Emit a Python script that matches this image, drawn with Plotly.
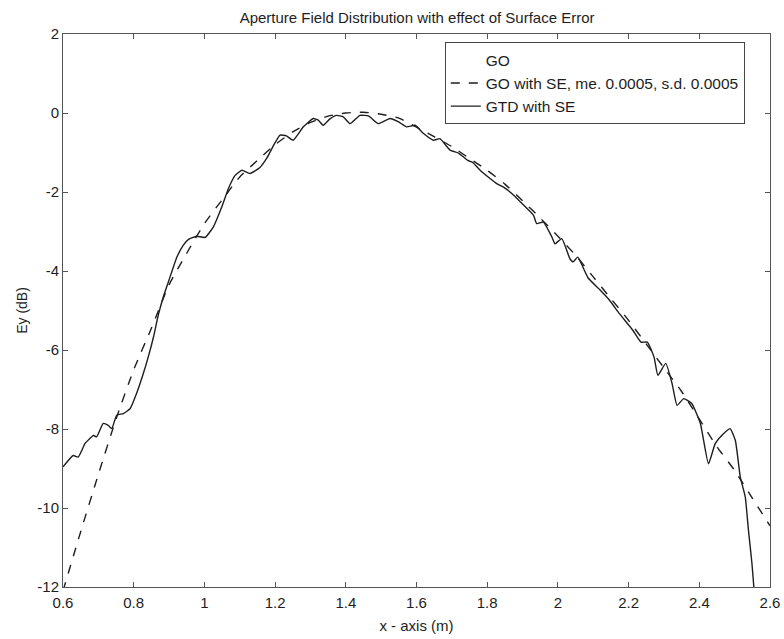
import plotly.graph_objects as go

# Aperture field along the x-axis (m) and the field level Ey (dB)
go_se_x = [0.60, 0.65, 0.70, 0.75, 0.80, 0.85, 0.90, 0.95, 1.00, 1.05,
           1.10, 1.15, 1.20, 1.25, 1.30, 1.35, 1.40, 1.45, 1.50, 1.55,
           1.60, 1.65, 1.70, 1.75, 1.80, 1.85, 1.90, 1.95, 2.00, 2.05,
           2.10, 2.15, 2.20, 2.25, 2.30, 2.35, 2.40, 2.45, 2.50, 2.55, 2.60]
go_se_y = [-12.1, -10.6, -9.15, -7.75, -6.5, -5.45, -4.35, -3.55, -2.8, -2.2,
           -1.62, -1.2, -0.8, -0.48, -0.24, -0.08, 0.0, 0.02, -0.03, -0.13,
           -0.36, -0.6, -0.85, -1.15, -1.45, -1.8, -2.22, -2.66, -3.12, -3.6,
           -4.15, -4.7, -5.25, -5.85, -6.45, -7.05, -7.75, -8.45, -9.05, -9.75, -10.45]

# GO without surface error (drawn in white in the original figure)
go_x = go_se_x
go_y = go_se_y

gtd_x = [0.600, 0.629, 0.643, 0.662, 0.676, 0.686, 0.695, 0.714, 0.728, 0.738,
         0.752, 0.771, 0.790, 0.808, 0.827, 0.841, 0.856, 0.870, 0.884, 0.898,
         0.922, 0.940, 0.955, 0.978, 1.002, 1.025, 1.049, 1.068, 1.087, 1.106,
         1.129, 1.157, 1.176, 1.200, 1.214, 1.232, 1.251, 1.280, 1.308, 1.322,
         1.336, 1.355, 1.374, 1.393, 1.412, 1.440, 1.465, 1.492, 1.525, 1.548,
         1.572, 1.596, 1.620, 1.648, 1.666, 1.695, 1.720, 1.745, 1.760, 1.780,
         1.808, 1.827, 1.850, 1.875, 1.905, 1.931, 1.940, 1.959, 1.983, 1.992,
         2.011, 2.034, 2.043, 2.056, 2.085, 2.118, 2.146, 2.174, 2.212, 2.235,
         2.253, 2.272, 2.283, 2.305, 2.323, 2.337, 2.356, 2.379, 2.403, 2.426,
         2.445, 2.464, 2.487, 2.502, 2.516, 2.530, 2.539, 2.549, 2.555, 2.560]
gtd_y = [-8.96, -8.67, -8.71, -8.37, -8.24, -8.16, -8.20, -7.86, -7.91, -7.99,
         -7.65, -7.61, -7.48, -7.10, -6.60, -6.18, -5.67, -5.10, -4.65, -4.28,
         -3.65, -3.35, -3.20, -3.12, -3.15, -2.89, -2.38, -1.91, -1.58, -1.45,
         -1.53, -1.38, -1.15, -0.75, -0.56, -0.58, -0.69, -0.35, -0.14, -0.18,
         -0.31, -0.15, -0.06, -0.10, -0.27, -0.06, -0.08, -0.27, -0.14, -0.22,
         -0.35, -0.31, -0.52, -0.69, -0.65, -0.94, -1.02, -1.20, -1.26, -1.45,
         -1.66, -1.79, -1.90, -2.08, -2.35, -2.59, -2.80, -2.76, -3.14, -3.31,
         -3.18, -3.69, -3.77, -3.65, -4.17, -4.47, -4.74, -5.08, -5.50, -5.80,
         -5.80, -6.18, -6.64, -6.34, -6.85, -7.40, -7.23, -7.36, -7.86, -8.88,
         -8.37, -8.16, -7.99, -8.29, -9.22, -9.72, -10.56, -11.41, -12.08, -12.5]

x_ticks = [0.6, 0.8, 1.0, 1.2, 1.4, 1.6, 1.8, 2.0, 2.2, 2.4, 2.6]
x_tick_text = ["0.6", "0.8", "1", "1.2", "1.4", "1.6", "1.8", "2", "2.2", "2.4", "2.6"]
y_ticks = [-12, -10, -8, -6, -4, -2, 0, 2]
y_tick_text = ["-12", "-10", "-8", "-6", "-4", "-2", "0", "2"]

FONT = "Liberation Sans, Arial, sans-serif"
INK = "#1e1e1e"

fig = go.Figure()
fig.add_trace(go.Scatter(x=go_x, y=go_y, mode="lines", name="GO",
                         line=dict(color="white", width=1.2)))
fig.add_trace(go.Scatter(x=go_se_x, y=go_se_y, mode="lines",
                         name="GO with SE, me. 0.0005, s.d. 0.0005",
                         line=dict(color=INK, width=1.4, dash="dash", shape="spline",
                                   smoothing=0.6)))
fig.add_trace(go.Scatter(x=gtd_x, y=gtd_y, mode="lines", name="GTD with SE",
                         line=dict(color=INK, width=1.4, shape="spline", smoothing=0.45)))

axis_common = dict(showgrid=False, zeroline=False, showline=True, linecolor="#555",
                   linewidth=1, mirror="ticks", ticks="inside", ticklen=5,
                   tickcolor="#555", automargin=False,
                   tickfont=dict(family=FONT, size=15, color=INK))

fig.update_layout(
    width=784, height=639,
    margin=dict(l=63, r=14, t=34, b=52),
    paper_bgcolor="white", plot_bgcolor="white",
    title=dict(text="Aperture Field Distribution with effect of Surface Error",
               x=0.532, xanchor="center", y=0.973, yanchor="middle",
               font=dict(family=FONT, size=15, color=INK)),
    xaxis=dict(range=[0.6, 2.6], tickvals=x_ticks, ticktext=x_tick_text,
               ticklabelstandoff=2,
               title=dict(text="x - axis (m)", standoff=10,
                          font=dict(family=FONT, size=15, color=INK)),
               **axis_common),
    yaxis=dict(range=[-12, 2], tickvals=y_ticks, ticktext=y_tick_text,
               title=dict(text="Ey (dB)", standoff=6,
                          font=dict(family=FONT, size=14, color=INK)),
               **axis_common),
    legend=dict(x=0.54, y=0.985, xanchor="left", yanchor="top",
                bgcolor="white", bordercolor="#444", borderwidth=1,
                font=dict(family=FONT, size=15.5, color=INK), tracegroupgap=0),
    showlegend=True,
)

fig.write_html("out.html")
